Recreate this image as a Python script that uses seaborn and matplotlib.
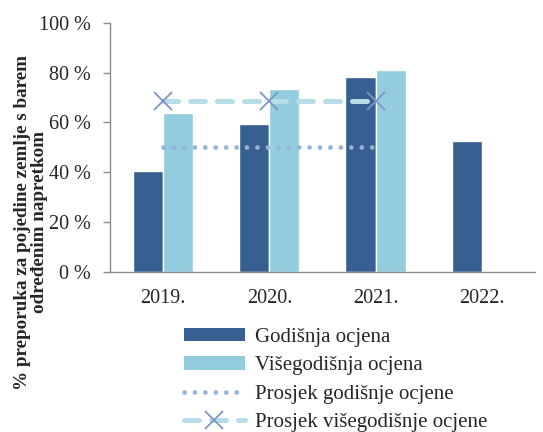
import numpy as np
import pandas as pd
import matplotlib
matplotlib.use("Agg")
import matplotlib.pyplot as plt
import seaborn as sns
from matplotlib.lines import Line2D
from matplotlib.patches import Patch

years = ["2019.", "2020.", "2021.", "2022."]
godisnja = [40.5, 59.2, 78.1, 52.4]
visegodisnja = [63.6, 73.4, 80.9, np.nan]
prosjek_god = [50.0, 50.0, 50.0]
prosjek_visegod = [68.7, 68.7, 68.7]

series_names = ["Godišnja ocjena", "Višegodišnja ocjena",
                "Prosjek godišnje ocjene", "Prosjek višegodišnje ocjene"]

df = pd.DataFrame({
    "year": years * 2,
    "value": godisnja + visegodisnja,
    "serie": [series_names[0]] * 4 + [series_names[1]] * 4,
})

sns.set_style("white")
plt.rcParams["font.family"] = ["Liberation Serif", "DejaVu Serif"]

c_dark = "#375f91"
c_light = "#93cddd"
c_dot = "#95b3d7"
c_dash = "#b7dee8"
c_x = "#7d95c7"
grey = "#8c8c8c"

dot_style = dict(linestyle=(0, (0.01, 2.2)), linewidth=3.4, color=c_dot,
                 dash_capstyle="round")
dash_style = dict(linestyle=(0, (3, 2.4)), linewidth=3.6, color=c_dash,
                  dash_capstyle="round")

fig = plt.figure(figsize=(5.43, 4.32), dpi=100)
ax = fig.add_axes([0.2026, 0.3704, 0.7824, 0.5771])

sns.barplot(data=df, x="year", y="value", hue="serie",
            palette=[c_dark, c_light], width=0.566, gap=0,
            saturation=1, ax=ax, legend=False)

xs = [0, 1, 2]
ax.plot(xs, prosjek_god, zorder=3, **dot_style)
ax.plot(xs, prosjek_visegod, zorder=3, **dash_style)
ax.plot(xs, prosjek_visegod, linestyle="none", marker="x", markersize=13,
        markeredgewidth=1.3, color=c_x, zorder=4)

ax.set_xlim(-0.5, 3.5)
ax.set_ylim(0, 100)
ax.set_yticks(np.arange(0, 101, 20))
ax.set_yticklabels([f"{v} %" for v in range(0, 101, 20)], fontsize=14.5)
ax.set_xticks(range(4))
ax.set_xticklabels(years, fontsize=14.5)
ax.set_xticks(np.arange(-0.5, 3.6, 1), minor=True)
ax.tick_params(axis="x", which="major", length=0, pad=12)
ax.tick_params(axis="x", which="minor", length=5, color=grey, width=1)
ax.tick_params(axis="y", length=5, color=grey, width=1, left=True, pad=9)

for s in ["top", "right"]:
    ax.spines[s].set_visible(False)
for s in ["left", "bottom"]:
    ax.spines[s].set_color(grey)
    ax.spines[s].set_linewidth(1)

ax.set_xlabel("")
ax.set_ylabel("% preporuka za pojedine zemlje s barem\nodređenim napretkom",
              fontsize=13.8, fontweight="bold", linespacing=1.0)
ax.yaxis.set_label_coords(-0.146, 0.2)

handles = [
    Patch(facecolor=c_dark, edgecolor="none"),
    Patch(facecolor=c_light, edgecolor="none"),
    Line2D([], [], **dot_style),
    Line2D([], [], marker="x", markersize=13, markeredgewidth=1.3,
           markeredgecolor=c_x, **dash_style),
]
fig.legend(handles, series_names, loc="upper left",
           bbox_to_anchor=(0.32, 0.265), frameon=False, fontsize=15,
           handlelength=2.9, handleheight=0.6, labelspacing=0.45,
           handletextpad=0.5, borderpad=0)

fig.savefig("out.png", dpi=100)
